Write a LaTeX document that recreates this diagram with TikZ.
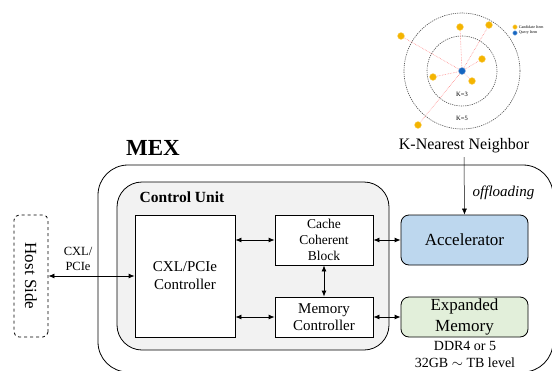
\documentclass[tikz,border=0pt]{standalone}
\usepackage{fontspec}
\setmainfont{Liberation Serif}
\usetikzlibrary{arrows.meta}
\usetikzlibrary{positioning}

\definecolor{accblue}{HTML}{BDD7EE}
\definecolor{memgreen}{HTML}{E2EFDA}
\definecolor{cugray}{HTML}{F2F2F2}
\definecolor{canddot}{HTML}{F4B400}
\definecolor{querydot}{HTML}{1565C0}

\tikzset{
        blk/.style={draw, fill=white, line width=0.8pt, align=center, inner sep=0pt},
        rblk/.style={blk, rounded corners=8pt},
        cand/.style={circle, draw=canddot!50, fill=canddot, line width=0.4pt, minimum size=7pt, inner sep=0pt},
        qry/.style={cand, draw=querydot!50, fill=querydot},
        knnline/.style={red!45, densely dotted, line width=0.6pt},
        ring/.style={black!70, dash pattern=on 1.2pt off 1pt, line width=0.6pt},
}

\begin{document}
\begin{tikzpicture}[x=1pt, y=-1pt, >={Latex[length=6pt,width=5pt]}, line width=0.8pt]
        \useasboundingbox (0,0) rectangle (552,370);
        \clip (0,0) rectangle (552,370);

        % k-nearest neighbor sketch
        \node[qry] (q) at (462,71) {};
        \draw[ring] (q.center) circle (35);
        \draw[ring] (q.center) circle (58);
        \foreach \p [count=\i] in {(401,36),(460,27),(489,25),(482,59),(433,77),(472,81),(418,125)} {
                \node[cand] (c\i) at \p {};
                \draw[knnline] (q) -- (c\i);
        }
        \node[font=\fontsize{6.5}{7}\selectfont] (k3) at (462,94) {K=3};
        \node[font=\fontsize{6.5}{7}\selectfont] (k5) at (462,118) {K=5};
        \node[cand, minimum size=4.5pt] (lc) at (515,27) {};
        \node[qry, minimum size=4.5pt] (lq) at (515,33) {};
        \node[right=0.5pt of lc, inner sep=0.5pt, font=\fontsize{4}{4}\selectfont] (lct) {Candidate Item};
        \node[right=0.5pt of lq, inner sep=0.5pt, font=\fontsize{4}{4}\selectfont] (lqt) {Query Item};

        % MEX device
        \node[draw, rounded corners=30pt, minimum width=455pt, minimum height=207pt] (mex) at (325.5,268.5) {};
        \node[anchor=base, font=\fontsize{23}{25}\bfseries\selectfont] (mexl) at (153,155) {MEX};
        \node[draw, fill=cugray, rounded corners=25pt, minimum width=272pt, minimum height=168pt] (cu) at (253,266) {};
        \node[anchor=base west, font=\fontsize{15.5}{17}\bfseries\selectfont] (cul) at (136,202) {Control Unit};

        \node[blk, minimum width=100pt, minimum height=122pt, font=\fontsize{15}{18}\selectfont] (ctrl) at (185,276) {CXL/PCIe\\Controller};
        \node[blk, minimum width=98pt, minimum height=50pt, font=\fontsize{13.5}{16}\selectfont] (cache) at (324,240) {Cache\\Coherent\\Block};
        \node[blk, minimum width=98pt, minimum height=40pt, font=\fontsize{15}{17}\selectfont] (memc) at (324,317) {Memory\\Controller};
        \node[rblk, fill=accblue, minimum width=127pt, minimum height=50pt, font=\fontsize{17}{19}\selectfont] (acc) at (464.5,240) {Accelerator};
        \node[rblk, fill=memgreen, minimum width=127pt, minimum height=40pt, font=\fontsize{17}{21}\selectfont] (exp) at (464.5,317) {Expanded\\Memory};
        \node[align=center, font=\fontsize{14}{17}\selectfont] (ddr) at (465,354) {DDR4 or 5\\32GB $\sim$ TB level};

        % host
        \node[draw, dashed, rounded corners=5pt, rotate=-90, minimum width=122pt, minimum height=34pt, font=\fontsize{17}{19}\selectfont] (host) at (31,276) {Host Side};
        \node[align=center, font=\fontsize{12.5}{15}\selectfont] (link) at (78,259) {CXL/\\PCIe};

        \node[font=\fontsize{16}{18}\selectfont] (knn) at (464,146) {K-Nearest Neighbor};
        \node[anchor=west, font=\fontsize{15}{17}\itshape\selectfont] (off) at (469,193) {offloading};

        % links
        \draw[<->] (host.north) -- (ctrl.west);
        \draw[<->] (ctrl.east |- cache) -- (cache.west);
        \draw[<->] (ctrl.east |- memc) -- (memc.west);
        \draw[<->] (cache.south) -- (memc.north);
        \draw[<->] (cache.east) -- (acc.west);
        \draw[<->] (memc.east) -- (exp.west);
        \draw[->, line width=0.5pt] (knn.south) -- (acc.north);
\end{tikzpicture}
\end{document}
